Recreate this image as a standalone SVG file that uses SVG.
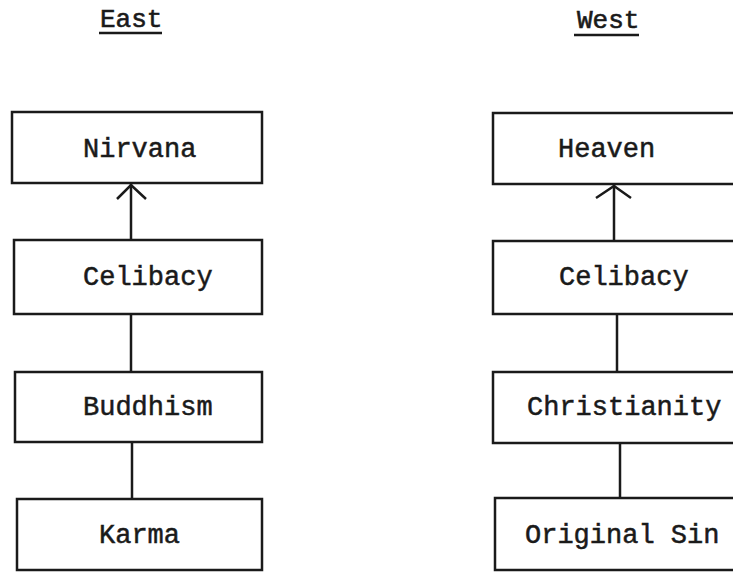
<svg xmlns="http://www.w3.org/2000/svg" width="733" height="572" viewBox="0 0 733 572">
<style>
.box{fill:#fff;stroke:#1a1a1a;stroke-width:2.5}
.lbl{font-family:"Liberation Mono","DejaVu Sans Mono",monospace;font-size:27px;fill:#1a1a1a;stroke:#1a1a1a;stroke-width:0.5}
.ttl{font-family:"Liberation Mono","DejaVu Sans Mono",monospace;font-size:26px;fill:#1a1a1a;stroke:#1a1a1a;stroke-width:0.6}
.ln{stroke:#1a1a1a;stroke-width:2.5;fill:none}
</style>
<rect width="733" height="572" fill="#fff"/>
<g id="title-east"><text class="ttl" x="100" y="27">East</text><line class="ln" x1="99" y1="33" x2="162" y2="33" stroke-width="2"/></g>
<g id="title-west"><text class="ttl" x="577" y="28">West</text><line class="ln" x1="574" y1="35" x2="639" y2="35" stroke-width="2"/></g>
<g id="connectors">
<line class="ln" x1="131" y1="184" x2="131" y2="240"/>
<polyline class="ln" points="117,199 131,185 146,199"/>
<line class="ln" x1="131" y1="314" x2="131" y2="372"/>
<line class="ln" x1="132" y1="442" x2="132" y2="499"/>
<line class="ln" x1="614" y1="184" x2="614" y2="241"/>
<polyline class="ln" points="596,198 614,186 631,198"/>
<line class="ln" x1="617" y1="314" x2="617" y2="372"/>
<line class="ln" x1="620" y1="443" x2="620" y2="498"/>
</g>
<g id="nirvana"><rect class="box" x="12" y="112" width="250" height="71"/><text class="lbl" x="83" y="157">Nirvana</text></g>
<g id="celibacy-east"><rect class="box" x="14" y="240" width="248" height="74"/><text class="lbl" x="83" y="285">Celibacy</text></g>
<g id="buddhism"><rect class="box" x="15" y="372" width="247" height="70"/><text class="lbl" x="83" y="415">Buddhism</text></g>
<g id="karma"><rect class="box" x="17" y="499" width="245" height="71"/><text class="lbl" x="99" y="543">Karma</text></g>
<g id="heaven"><rect class="box" x="493" y="113" width="260" height="71"/><text class="lbl" x="558" y="157">Heaven</text></g>
<g id="celibacy-west"><rect class="box" x="493" y="241" width="260" height="73"/><text class="lbl" x="559" y="285">Celibacy</text></g>
<g id="christianity"><rect class="box" x="493" y="372" width="260" height="71"/><text class="lbl" x="527" y="415">Christianity</text></g>
<g id="original-sin"><rect class="box" x="495" y="498" width="260" height="72"/><text class="lbl" x="525" y="543">Original Sin</text></g>
</svg>
